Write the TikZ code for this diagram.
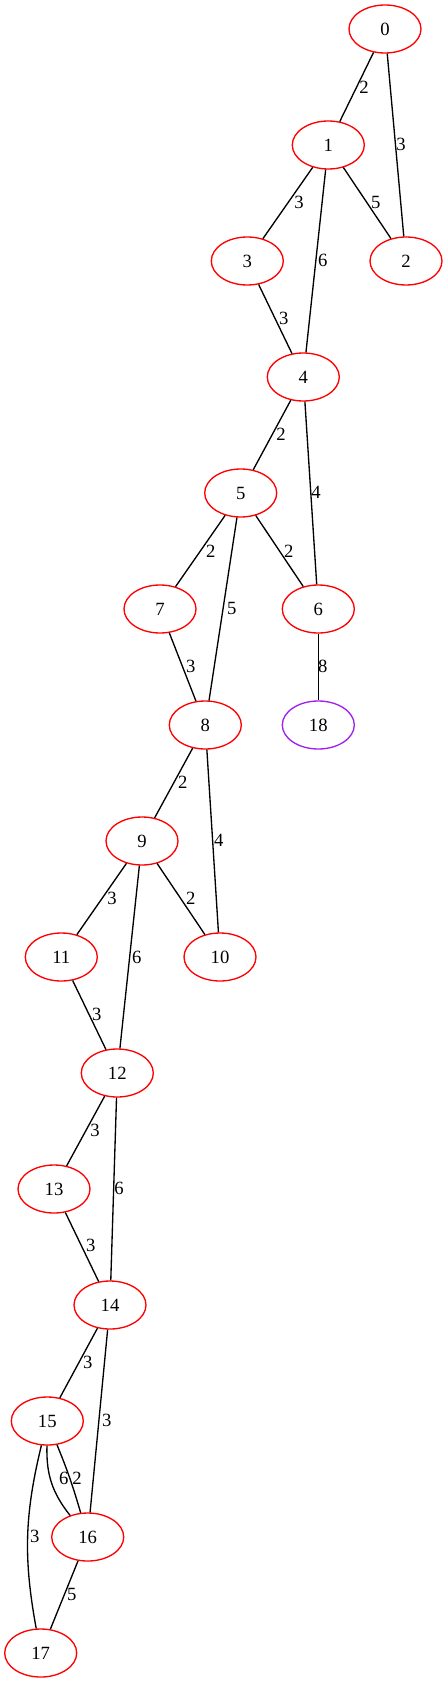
\documentclass[tikz,border=0pt]{standalone}
\usepackage{fontspec}
\setmainfont{Liberation Serif}
\usetikzlibrary{shapes.geometric}
\begin{document}
\begin{tikzpicture}[x=0.75pt,y=-0.75pt,
  gnode/.style={ellipse,draw=red,line width=1pt,minimum width=54pt,minimum height=36pt,inner sep=0pt,font=\fontsize{14}{16.8}\selectfont},
  pnode/.style={gnode,draw={rgb,255:red,160;green,32;blue,240}},
  lbl/.style={inner sep=0pt,font=\fontsize{14}{16.8}\selectfont},
  edge/.style={draw=black,line width=1pt}]
\useasboundingbox (0,0) rectangle (448,1683);
\node[gnode] (n0) at (385,29) {0};
\node[gnode] (n1) at (328.3,145) {1};
\node[gnode] (n3) at (247.3,261) {3};
\node[gnode] (n2) at (406,261) {2};
\node[gnode] (n4) at (303.3,377) {4};
\node[gnode] (n5) at (240.7,493) {5};
\node[gnode] (n7) at (160,609) {7};
\node[gnode] (n6) at (318.3,609) {6};
\node[gnode] (n8) at (205.3,725) {8};
\node[pnode] (n18) at (318.3,725) {18};
\node[gnode] (n9) at (142,841) {9};
\node[gnode] (n11) at (61.3,957) {11};
\node[gnode] (n10) at (220,957) {10};
\node[gnode] (n12) at (117.3,1073) {12};
\node[gnode] (n13) at (54,1189) {13};
\node[gnode] (n14) at (110,1305) {14};
\node[gnode] (n15) at (47.3,1421) {15};
\node[gnode] (n16) at (87.7,1537) {16};
\node[gnode] (n17) at (40.7,1653) {17};

\draw[edge] (n0) -- (n1) node[lbl] at (364,87) {2};
\draw[edge] (n0) -- (n2) node[lbl] at (401,144) {3};
\draw[edge] (n1) -- (n3) node[lbl] at (299,202) {3};
\draw[edge] (n1) -- (n4) node[lbl] at (322.7,260) {6};
\draw[edge] (n1) -- (n2) node[lbl] at (375.7,202) {5};
\draw[edge] (n3) -- (n4) node[lbl] at (283.7,318) {3};
\draw[edge] (n4) -- (n5) node[lbl] at (281,434) {2};
\draw[edge] (n4) -- (n6) node[lbl] at (316,492) {4};
\draw[edge] (n5) -- (n7) node[lbl] at (210.7,551) {2};
\draw[edge] (n5) -- (n6) node[lbl] at (288.7,551) {2};
\draw[edge] (n5) -- (n8) node[lbl] at (231.7,608) {5};
\draw[edge] (n7) -- (n8) node[lbl] at (190.7,666) {3};
\draw[edge] (n6) -- (n18) node[lbl] at (322.7,666) {8};
\draw[edge] (n8) -- (n9) node[lbl] at (182.7,782) {2};
\draw[edge] (n8) -- (n10) node[lbl] at (218.7,840) {4};
\draw[edge] (n9) -- (n11) node[lbl] at (112,898) {3};
\draw[edge] (n9) -- (n10) node[lbl] at (190.7,898) {2};
\draw[edge] (n9) -- (n12) node[lbl] at (136.7,957) {6};
\draw[edge] (n11) -- (n12) node[lbl] at (96.7,1014) {3};
\draw[edge] (n12) -- (n13) node[lbl] at (95,1130) {3};
\draw[edge] (n12) -- (n14) node[lbl] at (119,1188) {6};
\draw[edge] (n13) -- (n14) node[lbl] at (90.7,1245.7) {3};
\draw[edge] (n14) -- (n15) node[lbl] at (87.7,1362.7) {3};
\draw[edge] (n14) -- (n16) node[lbl] at (106.7,1420) {3};
\draw[edge] (n15) to[bend right=20] (n16) node[lbl] at (63.7,1478) {6};
\draw[edge] (n15) to[bend left=3] (n16) node[lbl] at (77,1478) {2};
\draw[edge] (n15) to[bend right=12] (n17) node[lbl] at (34.7,1536) {3};
\draw[edge] (n16) -- (n17) node[lbl] at (71.7,1594) {5};
\end{tikzpicture}
\end{document}
